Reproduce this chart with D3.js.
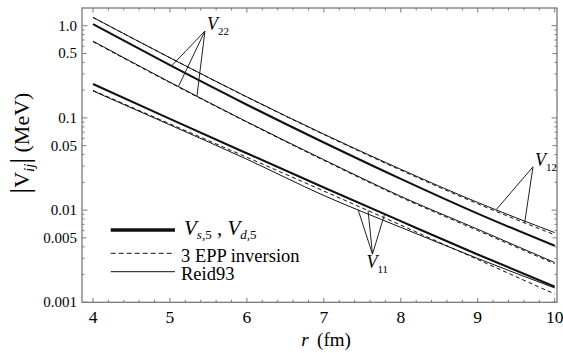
<!doctype html>
<html lang='en'>
<head>
<meta charset='UTF-8'>
<title>Vij vs r</title>
<style>
  body { margin: 0; background: #fff; }
  text { font-family: 'Liberation Serif', 'Times New Roman', 'DejaVu Serif', serif; }
  .frame { fill: none; stroke: #7a7a7a; stroke-width: 1.3px; }
  .tick { stroke: #7a7a7a; stroke-width: 1px; }
  .curve { fill: none; stroke: #111; }
  .thick { stroke-width: 2.1px; }
  .thin { stroke-width: 1px; }
  .dashed { stroke-width: 1px; stroke-dasharray: 4,3; }
  .ann { stroke: #222; stroke-width: 1px; }
</style>
</head>
<body>
<script src='https://cdn.jsdelivr.net/npm/d3@7'></script>
<script>
  // values, r in fm, |V| in MeV
  const rValues = [4, 5, 6, 7, 8, 9, 10]

  const vd5    = [1.04, 0.373, 0.139, 0.0541, 0.0218, 0.00916, 0.0041]
  const vs5    = [0.233, 0.0975, 0.0413, 0.0176, 0.00759, 0.0033, 0.00148]
  const reid12 = [1.23, 0.449, 0.169, 0.0667, 0.0277, 0.0121, 0.0057]
  const epp12  = [1.23, 0.449, 0.168, 0.0660, 0.0271, 0.0117, 0.0054]
  const reid22 = [0.68, 0.244, 0.0908, 0.0352, 0.0141, 0.0062, 0.0027]
  const epp22  = [0.67, 0.241, 0.0898, 0.0346, 0.0138, 0.0060, 0.00262]
  const reid11 = [0.196, 0.084, 0.0356, 0.0144, 0.0065, 0.00299, 0.00143]
  const epp11  = [0.199, 0.0861, 0.0374, 0.0161, 0.00687, 0.00291, 0.00123]

  const xTicks = [4, 5, 6, 7, 8, 9, 10]
  const yTicks = [0.001, 0.005, 0.01, 0.05, 0.1, 0.5, 1]
  const yTickLabels = ['0.001', '0.005', '0.01', '0.05', '0.1', '0.5', '1.0']

  const series = [
    {name: 'reid12', values: reid12, style: 'thin'},
    {name: 'epp12', values: epp12, style: 'dashed'},
    {name: 'vd5', values: vd5, style: 'thick'},
    {name: 'reid22', values: reid22, style: 'thin'},
    {name: 'epp22', values: epp22, style: 'dashed'},
    {name: 'reid11', values: reid11, style: 'thin'},
    {name: 'epp11', values: epp11, style: 'dashed'},
    {name: 'vs5', values: vs5, style: 'thick'},
  ]

  // label -> where it sits (r, V) and which curves (at which r) it points to
  const labels = [
    {main: 'V', sub: '22', at: [5.455, 0.876], dx: 2, dy: -1,
      targets: [['vd5', 5.02], ['reid22', 5.11], ['epp22', 5.35]]},
    {main: 'V', sub: '12', at: [9.718, 0.0295], dx: 2, dy: -1,
      targets: [['reid12', 9.24], ['epp12', 9.61]]},
    {main: 'V', sub: '11', at: [7.632, 0.00333], dx: -6, dy: 14,
      targets: [['reid11', 7.445], ['epp11', 7.575], ['vs5', 7.79]]},
  ]

  const W = 563, H = 353
  const mLeft = 82, mRight = 557, mTop = 8, mBottom = 302.3

  const x = d3.scaleLinear().domain([3.857, 10.03]).range([mLeft, mRight])
  const y = d3.scaleLog().domain([0.001, 1.556]).range([mBottom, mTop])

  const svg = d3.select('body').append('svg')
    .attr('width', W).attr('height', H)

  // frame
  svg.append('rect').attr('class', 'frame')
    .attr('x', mLeft).attr('y', mTop)
    .attr('width', mRight - mLeft).attr('height', mBottom - mTop)

  // x ticks (major + minor), bottom and top, pointing inward
  const xMinor = d3.range(3.8, 10.05, 0.2).filter(v => v >= x.domain()[0] && v <= x.domain()[1])
  xMinor.forEach(v => {
    const major = Math.abs(v - Math.round(v)) < 1e-6
    const len = major ? 4.5 : 2.5
    svg.append('line').attr('class', 'tick')
      .attr('x1', x(v)).attr('x2', x(v)).attr('y1', mBottom).attr('y2', mBottom - len)
    svg.append('line').attr('class', 'tick')
      .attr('x1', x(v)).attr('x2', x(v)).attr('y1', mTop).attr('y2', mTop + len)
  })
  svg.selectAll('.xlab').data(xTicks).join('text')
    .attr('class', 'xlab')
    .attr('x', d => x(d)).attr('y', 323)
    .attr('text-anchor', 'middle')
    .attr('font-size', 17.5)
    .text(d => d)

  // y ticks: every 1..9 x decade
  const yMinor = []
  ;[0.001, 0.01, 0.1, 1].forEach(dec => {
    for (let k = 1; k <= 9; k++) {
      const v = dec * k
      if (v <= y.domain()[1]) yMinor.push(v)
    }
  })
  yMinor.forEach(v => {
    const m = v / Math.pow(10, Math.floor(Math.log10(v) + 1e-9))
    const len = Math.abs(m - 1) < 1e-6 ? 5.5 : (Math.abs(m - 5) < 1e-6 ? 4.5 : 2.5)
    svg.append('line').attr('class', 'tick')
      .attr('x1', mLeft).attr('x2', mLeft + len).attr('y1', y(v)).attr('y2', y(v))
    svg.append('line').attr('class', 'tick')
      .attr('x1', mRight).attr('x2', mRight - len).attr('y1', y(v)).attr('y2', y(v))
  })
  svg.selectAll('.ylab').data(yTicks).join('text')
    .attr('class', 'ylab')
    .attr('x', 77).attr('y', d => y(d) + 5)
    .attr('text-anchor', 'end')
    .attr('font-size', 15)
    .text((d, i) => yTickLabels[i])

  // axis titles
  const xt = svg.append('text').attr('x', 326).attr('y', 346)
    .attr('text-anchor', 'middle').attr('font-size', 19)
  xt.append('tspan').attr('font-style', 'italic').text('r')
  xt.append('tspan').text('\u2009 (fm)')

  const yt = svg.append('text')
    .attr('transform', 'translate(29,143) rotate(-90)')
    .attr('text-anchor', 'middle').attr('font-size', 22)
  yt.append('tspan').attr('font-size', 28).text('|')
  yt.append('tspan').text('V')
  yt.append('tspan').attr('font-style', 'italic').attr('font-size', 15).attr('dy', 5).text('ij')
  yt.append('tspan').attr('font-size', 28).attr('dy', -5).text('|')
  yt.append('tspan').text(' (MeV)')

  // curves
  const line = d3.line()
    .x((d, i) => x(rValues[i]))
    .y(d => y(d))
    .curve(d3.curveMonotoneX)

  svg.selectAll('.curve').data(series).join('path')
    .attr('class', d => 'curve ' + d.style)
    .attr('d', d => line(d.values))

  // value of a series at r (linear in log between read points)
  function valueAt(name, r) {
    const vals = series.find(s => s.name === name).values
    const i = Math.min(rValues.length - 2, Math.max(0, d3.bisectRight(rValues, r) - 1))
    const t = (r - rValues[i]) / (rValues[i + 1] - rValues[i])
    return Math.pow(10, Math.log10(vals[i]) * (1 - t) + Math.log10(vals[i + 1]) * t)
  }

  labels.forEach(lb => {
    const ax = x(lb.at[0]), ay = y(lb.at[1])
    lb.targets.forEach(([name, r]) => {
      svg.append('line').attr('class', 'ann')
        .attr('x1', ax).attr('y1', ay)
        .attr('x2', x(r)).attr('y2', y(valueAt(name, r)))
    })
    const t = svg.append('text')
      .attr('x', ax + lb.dx).attr('y', ay + lb.dy)
      .attr('font-size', 18)
    t.append('tspan').attr('font-style', 'italic').text(lb.main)
    t.append('tspan').attr('font-size', 11).attr('dy', 5).text(lb.sub)
  })

  // legend
  const legend = svg.append('g')
  legend.append('line').attr('x1', 110.7).attr('x2', 175).attr('y1', 230).attr('y2', 230)
    .attr('stroke', '#111').attr('stroke-width', 3.5)
  legend.append('line').attr('x1', 110.7).attr('x2', 175).attr('y1', 253.3).attr('y2', 253.3)
    .attr('stroke', '#111').attr('stroke-width', 1).attr('stroke-dasharray', '5,3')
  legend.append('line').attr('x1', 110.7).attr('x2', 175).attr('y1', 271.7).attr('y2', 271.7)
    .attr('stroke', '#111').attr('stroke-width', 1)

  const l1 = legend.append('text').attr('x', 184).attr('y', 235).attr('font-size', 21)
  l1.append('tspan').attr('font-style', 'italic').text('V')
  l1.append('tspan').attr('font-size', 13).attr('dy', 4).attr('font-style', 'italic').text('s')
  l1.append('tspan').attr('font-size', 13).text(',5')
  l1.append('tspan').attr('dy', -4).text(' , ')
  l1.append('tspan').attr('font-style', 'italic').text('V')
  l1.append('tspan').attr('font-size', 13).attr('dy', 4).attr('font-style', 'italic').text('d')
  l1.append('tspan').attr('font-size', 13).text(',5')

  legend.append('text').attr('x', 181).attr('y', 261.5).attr('font-size', 18.5).text('3 EPP inversion')
  legend.append('text').attr('x', 181).attr('y', 280).attr('font-size', 18.5).text('Reid93')
</script>
</body>
</html>
